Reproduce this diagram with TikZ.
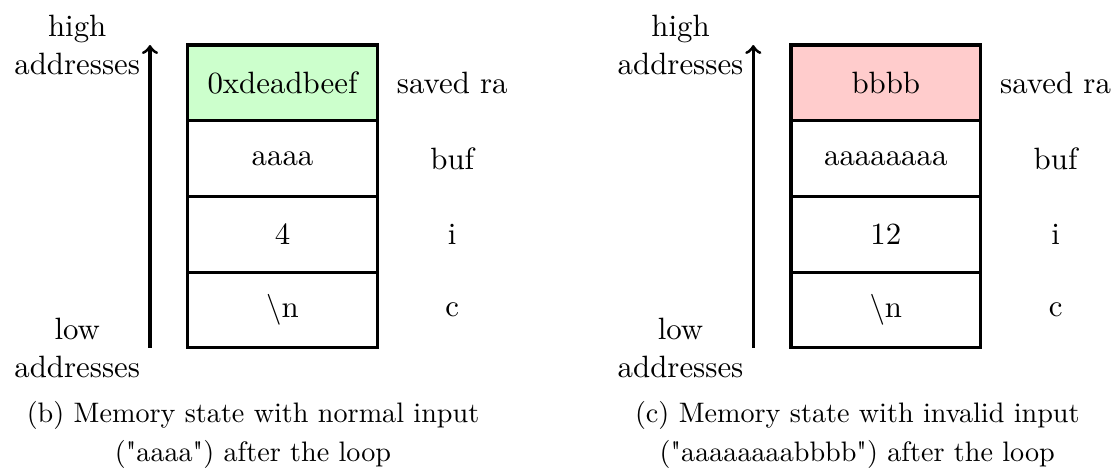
\documentclass[tikz,border=0pt]{standalone}
\usepackage{tikz}
\usepackage{xcolor}
\usetikzlibrary{positioning}

\begin{document}
\begin{tikzpicture}[font=\fontsize{10.95}{13.6}\selectfont,
    cell/.style={draw, line width=1.1pt, minimum width=2.366cm, minimum height=0.945cm, outer sep=0pt},
    caption/.style={align=center, font=\fontsize{10}{13.85}\selectfont}]
  \useasboundingbox (0,0) rectangle (13.904,-5.904);
  % (b) normal input
  \begin{scope}
    \node[cell, fill=green!20] (ra1) at (3.526,-1.034) {0xdeadbeef};
    \node[cell, below=0pt of ra1] (buf1) {aaaa};
    \node[cell, below=0pt of buf1] (i1) {4};
    \node[cell, below=0pt of i1] (c1) {\textbackslash n};
    \node (ralab1) at ([xshift=0.936cm]ra1.east) {saved ra};
    \node (buflab1) at ([xshift=0.936cm]buf1.east) {buf};
    \node (ilab1) at ([xshift=0.936cm]i1.east) {i};
    \node (clab1) at ([xshift=0.936cm]c1.east) {c};
    \coordinate (lo1) at (1.872,-4.342);
    \coordinate (hi1) at (1.872,-0.562);
    \draw[->, line width=1.1pt] (lo1) -- (hi1);
    \node[left, align=center] (high1) at (hi1) {high\\addresses};
    \node[left, align=center] (low1) at (lo1) {low\\addresses};
    \node[caption] (capb) at (3.158,-5.432) {(b) Memory state with normal input\\(\textquotedbl aaaa\textquotedbl) after the loop};
  \end{scope}
  % (c) invalid input
  \begin{scope}[xshift=7.53cm]
    \node[cell, fill=red!20] (ra2) at (3.526,-1.034) {bbbb};
    \node[cell, below=0pt of ra2] (buf2) {aaaaaaaa};
    \node[cell, below=0pt of buf2] (i2) {12};
    \node[cell, below=0pt of i2] (c2) {\textbackslash n};
    \node (ralab2) at ([xshift=0.936cm]ra2.east) {saved ra};
    \node (buflab2) at ([xshift=0.936cm]buf2.east) {buf};
    \node (ilab2) at ([xshift=0.936cm]i2.east) {i};
    \node (clab2) at ([xshift=0.936cm]c2.east) {c};
    \coordinate (lo2) at (1.872,-4.342);
    \coordinate (hi2) at (1.872,-0.562);
    \draw[->, line width=1.1pt] (lo2) -- (hi2);
    \node[left, align=center] (high2) at (hi2) {high\\addresses};
    \node[left, align=center] (low2) at (lo2) {low\\addresses};
    \node[caption] (capc) at (3.17,-5.432) {(c) Memory state with invalid input\\(\textquotedbl aaaaaaaabbbb\textquotedbl) after the loop};
  \end{scope}
\end{tikzpicture}
\end{document}
